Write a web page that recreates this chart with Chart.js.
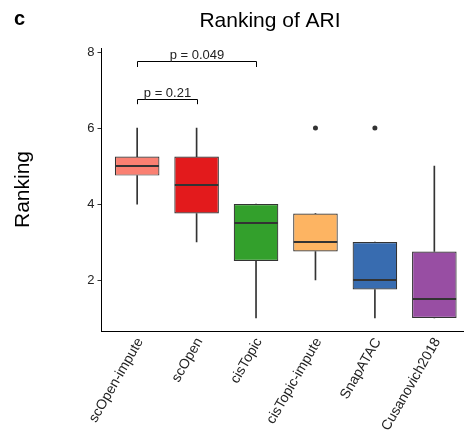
<!DOCTYPE html>
<html>
<head>
<meta charset="utf-8">
<script src="https://cdn.jsdelivr.net/npm/chart.js@4"></script>
<style>
  html, body { margin: 0; padding: 0; background: #fff; overflow: hidden; }
</style>
</head>
<body>
<canvas id="grafico" width="474" height="436"></canvas>
<script>
const methods = ["scOpen-impute", "scOpen", "cisTopic", "cisTopic-impute", "SnapATAC", "Cusanovich2018"];
const q1 = [4.75, 3.75, 2.5, 2.75, 1.75, 1];
const q3 = [5.25, 5.25, 4, 3.75, 3, 2.75];
const medians = [5, 4.5, 3.5, 3, 2, 1.5];
const whiskerLow = [4, 3, 1, 2, 1, 1];
const whiskerHigh = [6, 6, 4, 3.75, 3, 5];
const outlierPos = [4, 5];
const outlierValues = [6, 6];
const boxColors = ["#FA8072", "#E31A1C", "#33A02C", "#FDB462", "#386CB0", "#984EA3"];
const yTicks = [2, 4, 6, 8];

// comparacoes: grupo a, grupo b, texto, altura
const compA = [1, 1];
const compB = [2, 3];
const compText = ["p = 0.21", "p = 0.049"];
const compY = [6.78, 7.76];
const compDrop = 0.15;

const FONT = "'Liberation Sans', Arial, sans-serif";
const TXT = "#222";

const positions = methods.map((m, i) => i + 1);

// desenha medianas, colchetes, titulo
const boxExtras = {
  id: "boxExtras",
  afterDatasetsDraw(chart) {
    const ctx = chart.ctx;
    const yScale = chart.scales.y;
    const meta = chart.getDatasetMeta(1);
    ctx.save();
    ctx.strokeStyle = "#333";
    ctx.lineWidth = 2;
    meta.data.forEach((bar, i) => {
      const y = yScale.getPixelForValue(medians[i]);
      ctx.beginPath();
      ctx.moveTo(bar.x - bar.width / 2 + 0.5, y);
      ctx.lineTo(bar.x + bar.width / 2 - 0.5, y);
      ctx.stroke();
    });
    ctx.restore();
  },
  afterDraw(chart) {
    const ctx = chart.ctx;
    const xScale = chart.scales.x;
    const yScale = chart.scales.y;
    ctx.save();
    ctx.strokeStyle = "#000";
    ctx.lineWidth = 1;
    ctx.fillStyle = TXT;
    ctx.font = "13px " + FONT;
    ctx.textAlign = "center";
    ctx.textBaseline = "alphabetic";
    compA.forEach((a, i) => {
      const x1 = Math.round(xScale.getPixelForValue(a)) + 0.5;
      const x2 = Math.round(xScale.getPixelForValue(compB[i])) + 0.5;
      const y = Math.round(yScale.getPixelForValue(compY[i])) + 0.5;
      const yb = yScale.getPixelForValue(compY[i] - compDrop);
      ctx.beginPath();
      ctx.moveTo(x1, yb);
      ctx.lineTo(x1, y);
      ctx.lineTo(x2, y);
      ctx.lineTo(x2, yb);
      ctx.stroke();
      ctx.fillText(compText[i], (x1 + x2) / 2, y - 2.5);
    });

    ctx.fillStyle = "#000";
    ctx.textAlign = "center";
    ctx.textBaseline = "middle";
    ctx.font = "21px " + FONT;
    ctx.fillText("Ranking of ARI", 270, 21);
    ctx.textAlign = "left";
    ctx.font = "bold 20px " + FONT;
    ctx.fillText("c", 14, 19);
    ctx.restore();
  },
};

new Chart(document.getElementById("grafico"), {
  type: "bar",
  data: {
    datasets: [
      {
        type: "scatter",
        data: outlierPos.map((p, i) => ({ x: p, y: outlierValues[i] })),
        backgroundColor: "#333",
        borderColor: "#333",
        pointRadius: 2.5,
        borderWidth: 0,
      },
      {
        data: positions.map((p, i) => ({ x: p, y: [q1[i], q3[i]] })),
        backgroundColor: boxColors,
        borderColor: "#333",
        borderWidth: 1.2,
        borderSkipped: false,
        barPercentage: 0.75,
        categoryPercentage: 1,
        grouped: false,
      },
      {
        // bigode inferior
        data: positions.map((p, i) => ({ x: p, y: [whiskerLow[i], q1[i]] })),
        backgroundColor: "#333",
        borderWidth: 0,
        barThickness: 1,
        grouped: false,
      },
      {
        // bigode superior
        data: positions.map((p, i) => ({ x: p, y: [q3[i], whiskerHigh[i]] })),
        backgroundColor: "#333",
        borderWidth: 0,
        barThickness: 1,
        grouped: false,
      },
    ],
  },
  options: {
    responsive: false,
    devicePixelRatio: 1,
    animation: false,
    events: [],
    layout: { padding: { top: 48, left: 0, right: 0, bottom: 0 } },
    plugins: { legend: { display: false }, tooltip: { enabled: false } },
    scales: {
      x: {
        type: "linear",
        min: 0.4,
        max: 6.6,
        offset: false,
        afterBuildTicks: (scale) => {
          scale.ticks = positions.map((p) => ({ value: p }));
        },
        afterFit: (scale) => {
          scale.height = 105;
        },
        grid: { display: true, drawOnChartArea: false, drawTicks: false, offset: false },
        border: { display: true, color: "#000", width: 1 },
        ticks: {
          autoSkip: false,
          minRotation: 60,
          maxRotation: 60,
          padding: 4,
          labelOffset: 3,
          color: TXT,
          font: { family: FONT, size: 14 },
          callback: (v) => methods[v - 1] || "",
        },
      },
      y: {
        type: "linear",
        min: 0.657,
        max: 8.11,
        afterBuildTicks: (scale) => {
          scale.ticks = yTicks.map((v) => ({ value: v }));
        },
        afterFit: (scale) => {
          scale.width = 101.5;
        },
        grid: { display: true, drawOnChartArea: false, tickLength: 4, tickColor: "#333" },
        border: { display: true, color: "#000", width: 1 },
        ticks: { padding: 3, color: TXT, font: { family: FONT, size: 13 } },
        title: {
          display: true,
          text: "Ranking",
          color: "#000",
          font: { family: FONT, size: 21 },
          padding: { top: 11, bottom: 0 },
        },
      },
    },
  },
  plugins: [boxExtras],
});
</script>
</body>
</html>
